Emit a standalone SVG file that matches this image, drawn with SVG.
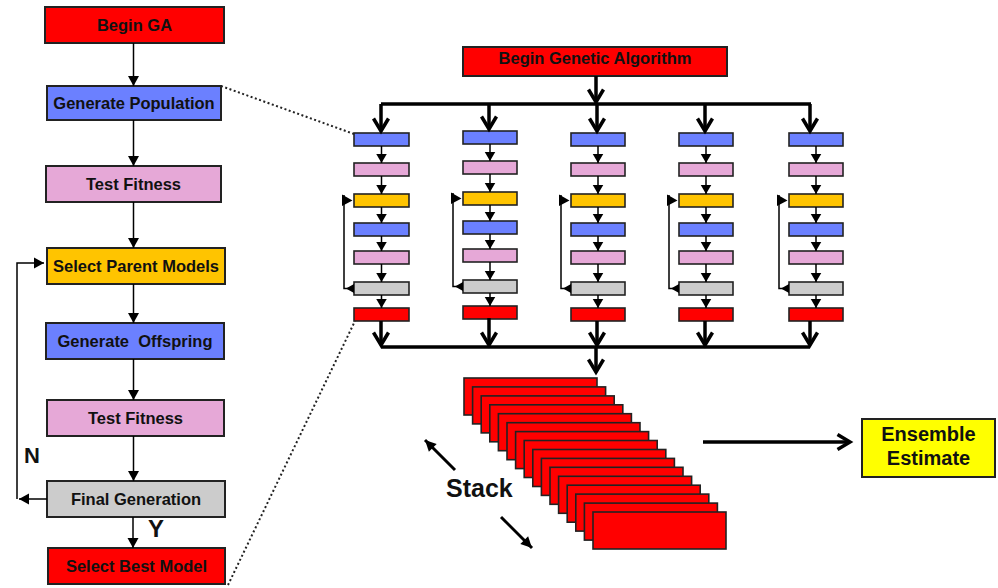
<svg xmlns="http://www.w3.org/2000/svg" width="998" height="588" viewBox="0 0 998 588">
  <style>
    .bx { stroke: #222; stroke-width: 2; }
    .sb { stroke: #222; stroke-width: 1.6; }
    .red { fill: #FF0000; }
    .blue { fill: #6B80FF; }
    .pink { fill: #E6A8D7; }
    .gold { fill: #FFC400; }
    .gray { fill: #CCCCCC; }
    .lbl { font-family: "Liberation Sans", Arial, sans-serif; font-weight: bold; font-size: 16.5px; fill: #111; text-anchor: middle; white-space: pre; }
    .big { font-family: "Liberation Sans", Arial, sans-serif; font-weight: bold; fill: #111; }
    .thin { stroke: #000; stroke-width: 1.5; fill: none; }
    .thick { stroke: #000; stroke-width: 3.5; fill: none; }
    .dot { stroke: #222; stroke-width: 2; fill: none; stroke-dasharray: 2 2.5; }
  </style>
  <defs>
    <marker id="ah" markerUnits="userSpaceOnUse" markerWidth="12" markerHeight="12" refX="10" refY="5.5" orient="auto" overflow="visible">
      <path d="M0,0 L10,5.5 L0,11 Z" fill="#000"/>
    </marker>
    <marker id="sah" markerUnits="userSpaceOnUse" markerWidth="11" markerHeight="11" refX="9" refY="5.25" orient="auto" overflow="visible">
      <path d="M0,0 L9,5.25 L0,10.5 Z" fill="#000"/>
    </marker>
    <marker id="vh" markerUnits="userSpaceOnUse" markerWidth="20" markerHeight="20" refX="13" refY="8" orient="auto" overflow="visible">
      <path d="M0.5,0.5 L13,8 L0.5,15.5" fill="none" stroke="#000" stroke-width="3.5"/>
    </marker>
    <marker id="fh" markerUnits="userSpaceOnUse" markerWidth="14" markerHeight="14" refX="11" refY="5.5" orient="auto" overflow="visible">
      <path d="M0,0 L11,5.5 L0,11 Z" fill="#000"/>
    </marker>
  </defs>

  <rect width="998" height="588" fill="#fff"/>

  <!-- left flow chart -->
  <g id="begin-ga"><rect class="bx red" x="45" y="7" width="179" height="36"/><text class="lbl" x="134.5" y="31">Begin GA</text></g>
  <g id="gen-pop"><rect class="bx blue" x="47" y="86" width="174" height="34"/><text class="lbl" x="134" y="109">Generate Population</text></g>
  <g id="test-fit-1"><rect class="bx pink" x="46" y="166" width="175" height="36"/><text class="lbl" x="133.5" y="190">Test Fitness</text></g>
  <g id="sel-parents"><rect class="bx gold" x="47" y="248" width="178" height="36"/><text class="lbl" x="136" y="272">Select Parent Models</text></g>
  <g id="gen-offspring"><rect class="bx blue" x="46" y="323" width="178" height="36"/><text class="lbl" x="135" y="347" xml:space="preserve">Generate  Offspring</text></g>
  <g id="test-fit-2"><rect class="bx pink" x="47" y="400" width="177" height="36"/><text class="lbl" x="135.5" y="424">Test Fitness</text></g>
  <g id="final-gen"><rect class="bx gray" x="47" y="481" width="178" height="36"/><text class="lbl" x="136" y="505">Final Generation</text></g>
  <g id="sel-best"><rect class="bx red" x="48" y="548" width="177" height="36"/><text class="lbl" x="136.5" y="572">Select Best Model</text></g>
  <g id="label-n"><text class="big" x="24" y="463" font-size="22">N</text></g>
  <g id="label-y"><text class="big" x="148" y="537" font-size="24">Y</text></g>

  <!-- parallel runs -->
  <g id="begin-genetic"><rect class="bx red" x="463" y="47" width="264" height="29"/><text class="lbl" x="595" y="63.5">Begin Genetic Algorithm</text></g>

  <g id="run-1" transform="translate(354,0)">
    <rect class="sb blue" x="0" y="133" width="55" height="13"/>
    <rect class="sb pink" x="0" y="163" width="55" height="13"/>
    <rect class="sb gold" x="0" y="194" width="55" height="13"/>
    <rect class="sb blue" x="0" y="223" width="55" height="13"/>
    <rect class="sb pink" x="0" y="251" width="55" height="13"/>
    <rect class="sb gray" x="0" y="282" width="55" height="13"/>
    <rect class="sb red" x="0" y="308" width="55" height="13"/>
  </g>
  <g id="run-2" transform="translate(463,-2)">
    <rect class="sb blue" x="0" y="133" width="54" height="13"/>
    <rect class="sb pink" x="0" y="163" width="54" height="13"/>
    <rect class="sb gold" x="0" y="194" width="54" height="13"/>
    <rect class="sb blue" x="0" y="223" width="54" height="13"/>
    <rect class="sb pink" x="0" y="251" width="54" height="13"/>
    <rect class="sb gray" x="0" y="282" width="54" height="13"/>
    <rect class="sb red" x="0" y="308" width="54" height="13"/>
  </g>
  <g id="run-3" transform="translate(571,0)">
    <rect class="sb blue" x="0" y="133" width="54" height="13"/>
    <rect class="sb pink" x="0" y="163" width="54" height="13"/>
    <rect class="sb gold" x="0" y="194" width="54" height="13"/>
    <rect class="sb blue" x="0" y="223" width="54" height="13"/>
    <rect class="sb pink" x="0" y="251" width="54" height="13"/>
    <rect class="sb gray" x="0" y="282" width="54" height="13"/>
    <rect class="sb red" x="0" y="308" width="54" height="13"/>
  </g>
  <g id="run-4" transform="translate(679,0)">
    <rect class="sb blue" x="0" y="133" width="54" height="13"/>
    <rect class="sb pink" x="0" y="163" width="54" height="13"/>
    <rect class="sb gold" x="0" y="194" width="54" height="13"/>
    <rect class="sb blue" x="0" y="223" width="54" height="13"/>
    <rect class="sb pink" x="0" y="251" width="54" height="13"/>
    <rect class="sb gray" x="0" y="282" width="54" height="13"/>
    <rect class="sb red" x="0" y="308" width="54" height="13"/>
  </g>
  <g id="run-5" transform="translate(789,0)">
    <rect class="sb blue" x="0" y="133" width="54" height="13"/>
    <rect class="sb pink" x="0" y="163" width="54" height="13"/>
    <rect class="sb gold" x="0" y="194" width="54" height="13"/>
    <rect class="sb blue" x="0" y="223" width="54" height="13"/>
    <rect class="sb pink" x="0" y="251" width="54" height="13"/>
    <rect class="sb gray" x="0" y="282" width="54" height="13"/>
    <rect class="sb red" x="0" y="308" width="54" height="13"/>
  </g>

  <!-- stacked results -->
  <g id="stack" stroke="#222" stroke-width="1.6" fill="#FF0000">
    <rect x="464" y="378" width="133" height="37"/>
    <rect x="472.6" y="386.9" width="133" height="37"/>
    <rect x="481.2" y="395.9" width="133" height="37"/>
    <rect x="489.8" y="404.8" width="133" height="37"/>
    <rect x="498.4" y="413.7" width="133" height="37"/>
    <rect x="507" y="422.7" width="133" height="37"/>
    <rect x="515.6" y="431.6" width="133" height="37"/>
    <rect x="524.2" y="440.5" width="133" height="37"/>
    <rect x="532.8" y="449.5" width="133" height="37"/>
    <rect x="541.4" y="458.4" width="133" height="37"/>
    <rect x="550" y="467.3" width="133" height="37"/>
    <rect x="558.6" y="476.3" width="133" height="37"/>
    <rect x="567.2" y="485.2" width="133" height="37"/>
    <rect x="575.8" y="494.1" width="133" height="37"/>
    <rect x="584.4" y="503.1" width="133" height="37"/>
    <rect x="593" y="512" width="133" height="37"/>
  </g>
  <g id="stack-label"><text class="big" x="446" y="497" font-size="25">Stack</text></g>

  <g id="ensemble"><rect x="862" y="419" width="133" height="58" fill="#FFFF00" stroke="#222" stroke-width="2"/>
    <text class="big" x="928.5" y="441" font-size="20" text-anchor="middle">Ensemble</text>
    <text class="big" x="928.5" y="465" font-size="20" text-anchor="middle">Estimate</text>
  </g>

  <g id="connectors">
    <!-- left chain -->
    <g class="thin" marker-end="url(#ah)">
      <path d="M133.5,43 V86"/>
      <path d="M133.5,120 V166"/>
      <path d="M133.5,202 V248"/>
      <path d="M133.5,284 V323"/>
      <path d="M133.5,359 V400"/>
      <path d="M133.5,436 V481"/>
      <path d="M133,517 V548"/>
      <path d="M47,499 H19"/>
      <path d="M17,499 V263 H44"/>
    </g>

    <!-- zoom guides -->
    <path class="dot" d="M221,86 L354,134"/>
    <path class="dot" d="M228,585 L355,321"/>

    <!-- fan out / fan in -->
    <path class="thick" d="M596,76 V102" marker-end="url(#vh)"/>
    <path class="thick" d="M381,104 H811"/>
    <g class="thick" marker-end="url(#vh)">
      <path d="M381,104 V131"/>
      <path d="M489,104 V129"/>
      <path d="M597,104 V131"/>
      <path d="M705,104 V131"/>
      <path d="M810,104 V131"/>
      <path d="M381,321 V345"/>
      <path d="M489,318 V345"/>
      <path d="M597,321 V345"/>
      <path d="M705,321 V345"/>
      <path d="M810,321 V345"/>
      <path d="M596,347 V372"/>
      <path d="M703,442 H850"/>
    </g>
    <path class="thick" d="M381,347 H810"/>

    <!-- stack direction -->
    <g stroke="#000" stroke-width="3" fill="none" marker-end="url(#fh)">
      <path d="M455,470 L425,440"/>
      <path d="M501,517 L532,548"/>
    </g>

    <!-- arrows inside each run -->
    <g id="run-links-1" transform="translate(354,0)">
      <g class="thin" marker-end="url(#sah)">
        <path d="M27.5,146 V163"/><path d="M27.5,176 V194"/><path d="M27.5,207 V223"/>
        <path d="M27.5,236 V251"/><path d="M27.5,264 V282"/><path d="M27.5,295 V308"/>
      </g>
      <path class="thin" d="M0,288.5 H-10 V195"/>
      <path d="M-12,194.5 L-1.5,200.5 L-12,206 Z M0,284 L-8,288.5 L0,293 Z" fill="#000"/>
    </g>
    <g id="run-links-2" transform="translate(463,-2)">
      <g class="thin" marker-end="url(#sah)">
        <path d="M27,146 V163"/><path d="M27,176 V194"/><path d="M27,207 V223"/>
        <path d="M27,236 V251"/><path d="M27,264 V282"/><path d="M27,295 V308"/>
      </g>
      <path class="thin" d="M0,288.5 H-10 V195"/>
      <path d="M-12,194.5 L-1.5,200.5 L-12,206 Z M0,284 L-8,288.5 L0,293 Z" fill="#000"/>
    </g>
    <g id="run-links-3" transform="translate(571,0)">
      <g class="thin" marker-end="url(#sah)">
        <path d="M27,146 V163"/><path d="M27,176 V194"/><path d="M27,207 V223"/>
        <path d="M27,236 V251"/><path d="M27,264 V282"/><path d="M27,295 V308"/>
      </g>
      <path class="thin" d="M0,288.5 H-10 V195"/>
      <path d="M-12,194.5 L-1.5,200.5 L-12,206 Z M0,284 L-8,288.5 L0,293 Z" fill="#000"/>
    </g>
    <g id="run-links-4" transform="translate(679,0)">
      <g class="thin" marker-end="url(#sah)">
        <path d="M27,146 V163"/><path d="M27,176 V194"/><path d="M27,207 V223"/>
        <path d="M27,236 V251"/><path d="M27,264 V282"/><path d="M27,295 V308"/>
      </g>
      <path class="thin" d="M0,288.5 H-10 V195"/>
      <path d="M-12,194.5 L-1.5,200.5 L-12,206 Z M0,284 L-8,288.5 L0,293 Z" fill="#000"/>
    </g>
    <g id="run-links-5" transform="translate(789,0)">
      <g class="thin" marker-end="url(#sah)">
        <path d="M27,146 V163"/><path d="M27,176 V194"/><path d="M27,207 V223"/>
        <path d="M27,236 V251"/><path d="M27,264 V282"/><path d="M27,295 V308"/>
      </g>
      <path class="thin" d="M0,288.5 H-10 V195"/>
      <path d="M-12,194.5 L-1.5,200.5 L-12,206 Z M0,284 L-8,288.5 L0,293 Z" fill="#000"/>
    </g>
  </g>
</svg>
